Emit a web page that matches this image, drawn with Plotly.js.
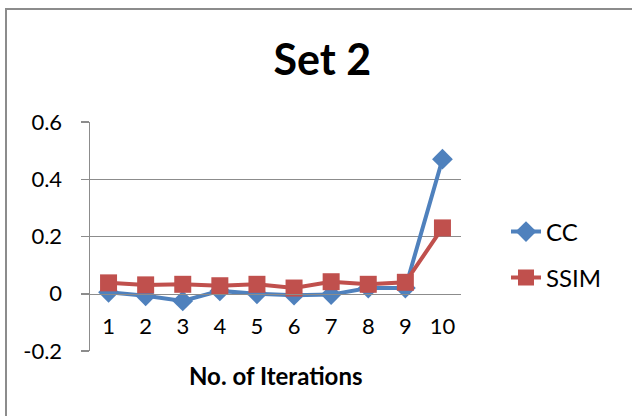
<!DOCTYPE html>
<html>
<head>
<meta charset="utf-8">
<script src="https://cdn.plot.ly/plotly-3.0.1.min.js"></script>
<style>
html,body{margin:0;padding:0;background:#fff;}
#wrap{position:relative;width:632px;height:416px;overflow:hidden;}
#frame{position:absolute;left:5px;top:8px;width:700px;height:500px;border-left:2px solid #8c8c8c;border-top:2px solid #8c8c8c;}
#chart{position:absolute;left:0;top:0;width:632px;height:416px;}
</style>
</head>
<body>
<div id="wrap"><div id="frame"></div><div id="chart"></div></div>
<script>
const iterations = ['1','2','3','4','5','6','7','8','9','10'];
const ccValues = [0.005, -0.007, -0.025, 0.01, 0.0, -0.005, -0.003, 0.02, 0.02, 0.47];
const ssimValues = [0.038, 0.031, 0.033, 0.028, 0.033, 0.02, 0.042, 0.033, 0.04, 0.23];
const yTicks = [-0.2, 0, 0.2, 0.4, 0.6];
const yTickText = ['-0.2', '0', '0.2', '0.4', '0.6'];
const gridVals = [0.2, 0.4, 0.6];

const FONT = 'Lato, "Open Sans", sans-serif';
const traces = [
  {x: iterations, y: ccValues, name: 'CC', type: 'scatter', mode: 'lines+markers',
   line: {color: '#4F81BD', width: 4}, marker: {symbol: 'diamond', size: 16, color: '#4F81BD'},
   legend: 'legend'},
  {x: iterations, y: ssimValues, name: 'SSIM', type: 'scatter', mode: 'lines+markers',
   line: {color: '#C0504D', width: 4}, marker: {symbol: 'square', size: 17, color: '#C0504D'},
   legend: 'legend2'}
];
const layout = {
  width: 632, height: 416,
  paper_bgcolor: 'rgba(0,0,0,0)', plot_bgcolor: 'rgba(0,0,0,0)',
  margin: {l: 90, r: 171, t: 122, b: 65},
  font: {family: FONT, size: 22, color: '#000'},
  title: {text: '<b>Set 2</b>', font: {family: FONT, size: 43, color: '#000'},
          x: 0.51, xanchor: 'center', y: 0.855, yanchor: 'middle', yref: 'container'},
  xaxis: {type: 'category', range: [-0.5, 9.5], anchor: 'free', position: 0.25,
          showline: true, linecolor: '#8c8c8c', linewidth: 1.5, ticks: '', showgrid: false,
          zeroline: false, tickfont: {size: 22}, ticklabelstandoff: 12, fixedrange: true},
  yaxis: {range: [-0.2, 0.6], tickvals: yTicks, ticktext: yTickText, showgrid: false,
          zeroline: false, showline: true, linecolor: '#8c8c8c', linewidth: 1.5,
          ticks: 'outside', ticklen: 8, tickcolor: '#8c8c8c', tickwidth: 1.5,
          tickfont: {size: 22}, ticklabelstandoff: 14},
  yaxis2: {overlaying: 'y', range: [-0.2, 0.6], tickvals: gridVals, showgrid: true,
           gridcolor: '#8c8c8c', gridwidth: 1.5, showticklabels: false, ticks: '', zeroline: false,
           showline: false},
  annotations: [{text: '<b>No. of Iterations</b>', xref: 'paper', yref: 'paper',
                 x: 0.5, y: (351 - 375) / 229, xanchor: 'center', yanchor: 'middle',
                 showarrow: false, font: {family: FONT, size: 24, color: '#000'}}],
  legend: {x: (506 - 90) / 371, y: (351 - 232) / 229, xanchor: 'left', yanchor: 'middle',
           bgcolor: 'rgba(0,0,0,0)', font: {size: 24}},
  legend2: {x: (506 - 90) / 371, y: (351 - 278) / 229, xanchor: 'left', yanchor: 'middle',
            bgcolor: 'rgba(0,0,0,0)', font: {size: 24}},
  showlegend: true
};
// an empty trace on yaxis2 so that its grid is drawn
traces.push({x: iterations, y: ccValues.map(() => null), yaxis: 'y2', showlegend: false,
             hoverinfo: 'skip', type: 'scatter', mode: 'lines'});
Plotly.newPlot('chart', traces, layout, {displayModeBar: false, staticPlot: true});
</script>
</body>
</html>
